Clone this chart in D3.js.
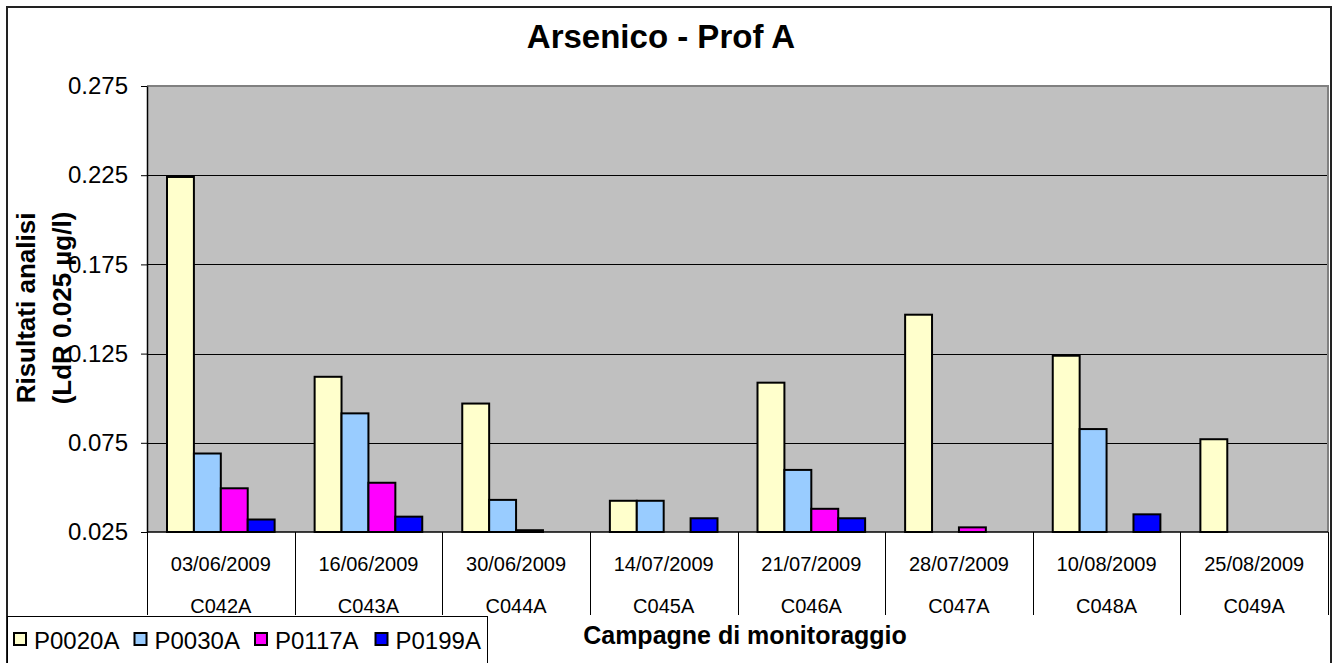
<!DOCTYPE html>
<html>
<head>
    <title>Arsenico - Prof A</title>
    <script src="https://d3js.org/d3.v7.min.js"></script>
    <style>
        body { margin: 0; background: #fff; }
        svg { display: block; font-family: Arial, "Liberation Sans", sans-serif; }
    </style>
</head>
<body>
    <svg id="chart" width="1337" height="663"></svg>

    <script>
        var dates = ["03/06/2009", "16/06/2009", "30/06/2009", "14/07/2009", "21/07/2009", "28/07/2009", "10/08/2009", "25/08/2009"]
        var codes = ["C042A", "C043A", "C044A", "C045A", "C046A", "C047A", "C048A", "C049A"]
        var seriesNames = ["P0020A", "P0030A", "P0117A", "P0199A"]
        var seriesColors = ["#FFFFCC", "#99CCFF", "#FF00FF", "#0000FF"]

        // null = no bar visible
        var p0020a = [0.224, 0.112, 0.097, 0.0425, 0.1087, 0.1468, 0.1238, 0.077]
        var p0030a = [0.069, 0.0915, 0.043, 0.0425, 0.0598, null, 0.0827, null]
        var p0117a = [0.0495, 0.0526, 0.026, null, 0.038, 0.0276, null, null]
        var p0199a = [0.032, 0.0336, null, 0.0327, 0.0327, null, 0.0349, null]

        var yTicks = [0.025, 0.075, 0.125, 0.175, 0.225, 0.275]

        var seriesValues = [p0020a, p0030a, p0117a, p0199a]

        var svg = d3.select('#chart')

        // chart border
        svg.append('rect')
            .attr('x', 7).attr('y', 7)
            .attr('width', 1324).attr('height', 670)
            .attr('fill', '#fff')
            .attr('stroke', '#222')
            .attr('stroke-width', 2)

        var plot = { left: 147, top: 86, right: 1328, bottom: 532 }

        var x0 = d3.scaleBand()
            .domain(codes)
            .range([plot.left, plot.right])

        var groupPad = 20
        var x1 = d3.scaleBand()
            .domain(seriesNames)
            .range([groupPad, x0.bandwidth() - groupPad])

        var y = d3.scaleLinear()
            .domain([0.025, 0.275])
            .range([plot.bottom, plot.top])

        // plot background
        svg.append('rect')
            .attr('x', plot.left).attr('y', plot.top)
            .attr('width', plot.right - plot.left)
            .attr('height', plot.bottom - plot.top)
            .attr('fill', '#C0C0C0')

        // gridlines
        svg.append('g')
            .selectAll('line')
            .data(yTicks.slice(1, -1))
            .enter().append('line')
              .attr('x1', plot.left).attr('x2', plot.right)
              .attr('y1', function (d) { return Math.round(y(d)) + 0.5 })
              .attr('y2', function (d) { return Math.round(y(d)) + 0.5 })
              .attr('stroke', '#000')
              .attr('stroke-width', 1)

        // plot border top/right
        svg.append('path')
            .attr('d', 'M' + plot.left + ',' + plot.top + 'H' + plot.right + 'V' + plot.bottom)
            .attr('fill', 'none')
            .attr('stroke', '#808080')
            .attr('stroke-width', 2)

        // bars
        var rows = []
        seriesNames.forEach(function (name, si) {
            seriesValues[si].forEach(function (v, ci) {
                if (v !== null) rows.push({ series: name, code: codes[ci], value: v, color: seriesColors[si] })
            })
        })

        svg.append('g')
            .attr('class', 'bars')
            .selectAll('rect')
            .data(rows)
            .enter().append('rect')
              .attr('x', function (d) { return x0(d.code) + x1(d.series) })
              .attr('y', function (d) { return y(d.value) })
              .attr('width', x1.bandwidth())
              .attr('height', function (d) { return y(0.025) - y(d.value) })
              .attr('fill', function (d) { return d.color })
              .attr('stroke', '#000')
              .attr('stroke-width', 2)

        // y axis
        var yAxis = d3.axisLeft(y)
            .tickValues(yTicks)
            .tickFormat(d3.format('.3f'))
            .tickSize(6)
            .tickSizeOuter(0)
            .tickPadding(13)

        var yg = svg.append('g')
            .attr('transform', 'translate(' + plot.left + ',0)')
            .call(yAxis)
        yg.selectAll('text').attr('font-size', 24).attr('fill', '#000')
            .attr('font-family', 'Arial, "Liberation Sans", sans-serif')
        yg.selectAll('line').attr('stroke', '#000')
        yg.select('.domain').attr('stroke', '#000').attr('stroke-width', 1.5)

        // category table below the plot
        var tableBottom = 615
        svg.append('line')
            .attr('x1', plot.left).attr('x2', plot.right)
            .attr('y1', plot.bottom).attr('y2', plot.bottom)
            .attr('stroke', '#000').attr('stroke-width', 1.5)

        var bounds = codes.map(function (c) { return x0(c) }).concat([plot.right])
        svg.append('g')
            .selectAll('line')
            .data(bounds)
            .enter().append('line')
              .attr('x1', function (d) { return Math.round(d) + 0.5 })
              .attr('x2', function (d) { return Math.round(d) + 0.5 })
              .attr('y1', plot.bottom).attr('y2', tableBottom)
              .attr('stroke', '#000').attr('stroke-width', 1)

        var catLabels = svg.append('g')
            .selectAll('g')
            .data(codes)
            .enter().append('g')
              .attr('transform', function (d) { return 'translate(' + (x0(d) + x0.bandwidth() / 2) + ',0)' })

        catLabels.append('text')
            .attr('y', 571)
            .attr('text-anchor', 'middle')
            .attr('font-size', 20)
            .text(function (d, i) { return dates[i] })

        catLabels.append('text')
            .attr('y', 613)
            .attr('text-anchor', 'middle')
            .attr('font-size', 20)
            .text(function (d) { return d })

        // title
        svg.append('text')
            .attr('x', 661).attr('y', 48)
            .attr('text-anchor', 'middle')
            .attr('font-size', 33)
            .attr('font-weight', 'bold')
            .text('Arsenico - Prof A')

        // x axis title
        svg.append('text')
            .attr('x', 745).attr('y', 644)
            .attr('text-anchor', 'middle')
            .attr('font-size', 25)
            .attr('font-weight', 'bold')
            .text('Campagne di monitoraggio')

        // y axis title (two lines)
        var yTitle = svg.append('text')
            .attr('transform', 'translate(35,308) rotate(-90)')
            .attr('text-anchor', 'middle')
            .attr('font-size', 26)
            .attr('font-weight', 'bold')
        yTitle.append('tspan').attr('x', 0).attr('y', 0).text('Risultati analisi')
        yTitle.append('tspan').attr('x', 0).attr('y', 36).text('(LdR 0.025 µg/l)')

        // legend
        var legend = svg.append('g')
        legend.append('rect')
            .attr('x', 7.5).attr('y', 616.5)
            .attr('width', 480).attr('height', 70)
            .attr('fill', '#fff')
            .attr('stroke', '#000')
            .attr('stroke-width', 1)

        var items = legend.selectAll('g.item')
            .data(seriesNames)
            .enter().append('g')
              .attr('class', 'item')
              .attr('transform', function (d, i) { return 'translate(' + (14 + i * 120.5) + ',0)' })

        items.append('rect')
            .attr('x', 0).attr('y', 633)
            .attr('width', 12).attr('height', 12)
            .attr('fill', function (d, i) { return seriesColors[i] })
            .attr('stroke', '#000')
            .attr('stroke-width', 2)

        items.append('text')
            .attr('x', 20).attr('y', 649)
            .attr('font-size', 24)
            .text(function (d) { return d })
    </script>
</body>
</html>
